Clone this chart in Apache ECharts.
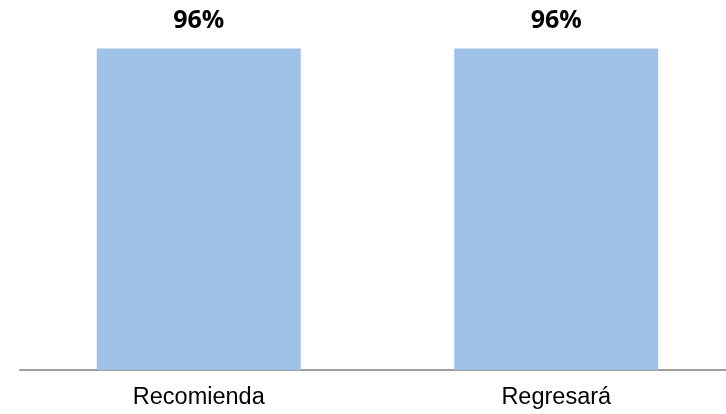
<!DOCTYPE html>
<html>
<head>
    <meta charset="utf-8">
    <title>ECharts</title>
    <script src="https://cdn.jsdelivr.net/npm/echarts@6/dist/echarts.min.js"></script>
</head>
<body style="margin:0;overflow:hidden">
    <!-- plot runs a few px past the right edge, like the original -->
    <div id="main" style="width:735px;height:414px;"></div>
    <script type="text/javascript">
var categories = ['Recomienda', 'Regresará'];
var values = [96, 96];

var myChart = echarts.init(document.getElementById('main'));
var option = {
    animation: false,
    grid: { left: 20, right: 0, top: 35, bottom: 44 },
    xAxis: {
        type: 'category',
        data: categories,
        axisTick: { show: false },
        axisLine: { lineStyle: { color: '#a0a0a0', width: 2 } },
        axisLabel: { color: '#000', fontSize: 23.5, fontFamily: 'Liberation Sans', margin: 16 }
    },
    yAxis: {
        type: 'value',
        min: 0,
        max: 100,
        show: false
    },
    series: [{
        type: 'bar',
        data: values,
        barWidth: 204,
        itemStyle: { color: '#a0c2e8' },
        label: {
            show: true,
            position: 'top',
            distance: 15,
            formatter: '{c}%',
            color: '#000',
            fontWeight: 'bold',
            fontSize: 25,
            fontFamily: 'Open Sans'
        }
    }]
};
myChart.setOption(option);
    </script>
</body>
</html>
